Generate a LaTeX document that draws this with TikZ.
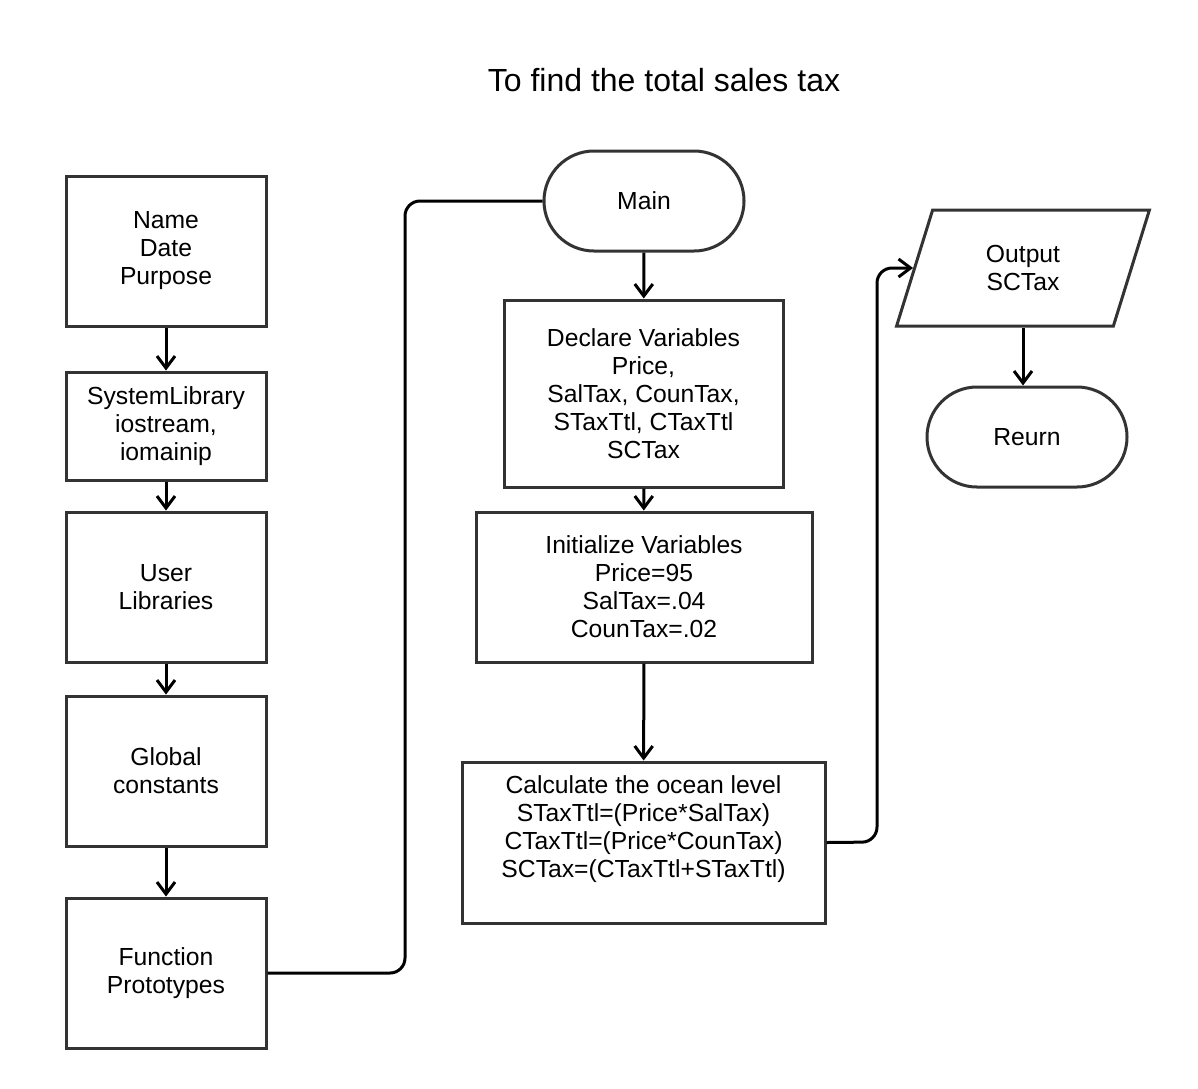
\documentclass[tikz,border=0pt]{standalone}
\usepackage{fontspec}
\setmainfont{Liberation Sans}
\usetikzlibrary{shapes.geometric,arrows.meta}
\definecolor{edge}{HTML}{333333}
\newcommand{\bodyfont}{\fontsize{12.35}{14}\selectfont}

\begin{document}
\begin{tikzpicture}[x=0.5pt,y=-0.5pt,
  box/.style={draw=edge,line width=1.5pt,align=center,font=\bodyfont,inner sep=0pt},
  term/.style={box,rounded corners=25pt,minimum width=100pt,minimum height=50pt},
  io/.style={box,trapezium,trapezium left angle=72,trapezium right angle=108,
    trapezium stretches=true,minimum width=127pt,minimum height=58pt},
  flow/.style={line width=1.5pt,-{Straight Barb[length=6pt,width=9pt]}},
  elbow/.style={line width=1.5pt,rounded corners=7.5pt}]
  \useasboundingbox (0,0) rectangle (1198,1088);
  % Title
  \node[font=\fontsize{16}{19}\selectfont] (title) at (664,80) {To find the total sales tax};
  % Left column
  \node[box,minimum width=100pt,minimum height=75pt] (hdr) at (166,251) {Name\\Date\\Purpose};
  \node[box,minimum width=100pt,minimum height=54pt] (syslib) at (166,426) {SystemLibrary\\iostream,\\iomainip};
  \node[box,minimum width=100pt,minimum height=75pt] (usrlib) at (166,587) {User\\Libraries};
  \node[box,minimum width=100pt,minimum height=75pt] (glob) at (166,771) {Global\\constants};
  \node[box,minimum width=100pt,minimum height=75pt] (proto) at (166,973) {Function\\Prototypes};
  % Middle column
  \node[term] (main) at (644,201) {Main};
  \node[box,minimum width=139.5pt,minimum height=93.5pt] (decl) at (643.5,393.5) {Declare Variables\\Price,\\SalTax, CounTax,\\STaxTtl, CTaxTtl\\SCTax};
  \node[box,minimum width=168pt,minimum height=75pt] (init) at (644,587) {Initialize Variables\\Price=95\\SalTax=.04\\CounTax=.02};
  \node[box,minimum width=181.5pt,minimum height=80.5pt] (calc) at (643.5,842.5) {Calculate the ocean level\\STaxTtl=(Price*SalTax)\\CTaxTtl=(Price*CounTax)\\SCTax=(CTaxTtl+STaxTtl)\\[2pt]\mbox{}};
  % Right column
  \node[io] (out) at (1023,268) {Output\\SCTax};
  \node[term] (ret) at (1027,437) {Reurn};
  % Connectors
  \draw[flow] (hdr) -- (syslib);
  \draw[flow] (syslib) -- (usrlib);
  \draw[flow] (usrlib) -- (glob);
  \draw[flow] (glob) -- (proto);
  \draw[elbow] (proto.east) -- (405,973) -- (405,201) -- (main.west);
  \draw[flow] (main) -- (decl);
  \draw[flow] (decl) -- (init);
  \draw[flow] (init) -- (calc);
  \draw[elbow,-{Straight Barb[length=6pt,width=9pt]}] (calc.east) -- (877,842) -- (877,268) -- (out.west);
  \draw[flow] (out.south) -- (out.south |- ret.north);
\end{tikzpicture}
\end{document}
